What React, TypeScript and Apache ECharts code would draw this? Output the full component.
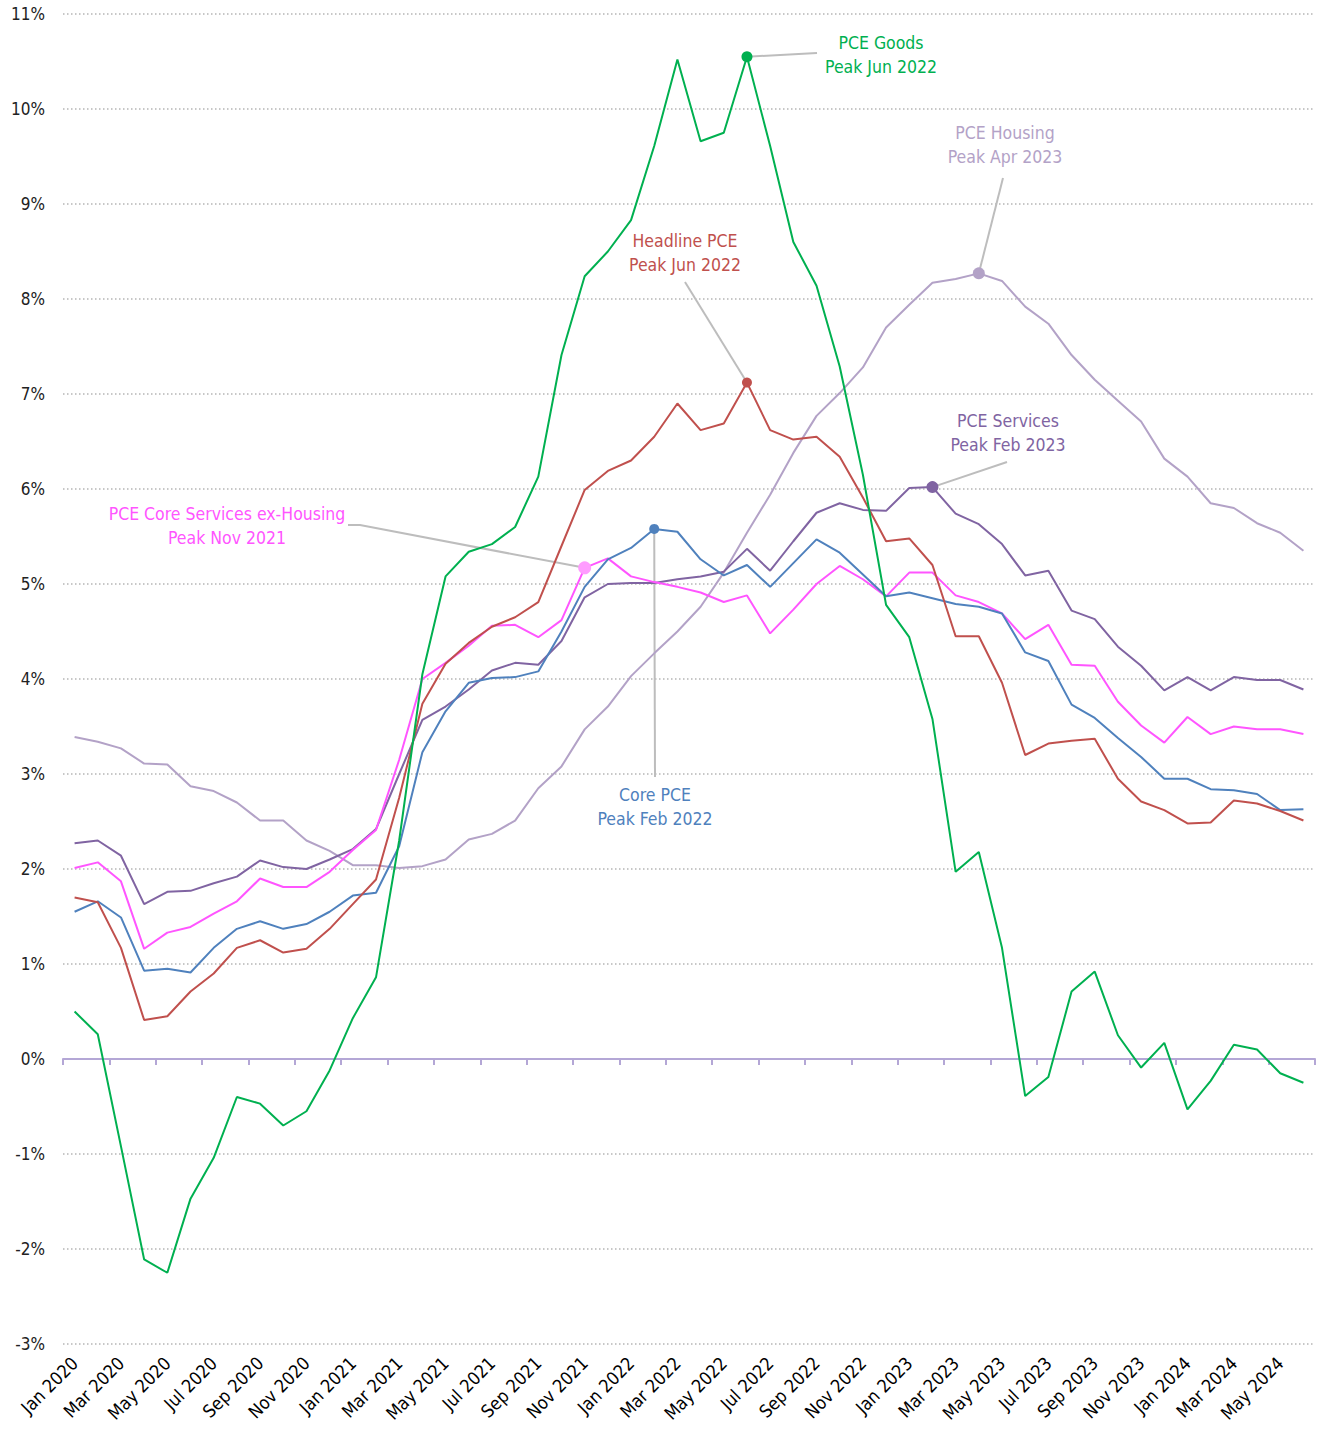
import React, { useEffect, useRef } from "react";
import * as echarts from "echarts";

// ---------- DATA ----------
const months = [
  "Jan 2020", "Feb 2020", "Mar 2020", "Apr 2020", "May 2020", "Jun 2020", "Jul 2020", "Aug 2020", "Sep 2020", "Oct 2020", "Nov 2020", "Dec 2020",
  "Jan 2021", "Feb 2021", "Mar 2021", "Apr 2021", "May 2021", "Jun 2021", "Jul 2021", "Aug 2021", "Sep 2021", "Oct 2021", "Nov 2021", "Dec 2021",
  "Jan 2022", "Feb 2022", "Mar 2022", "Apr 2022", "May 2022", "Jun 2022", "Jul 2022", "Aug 2022", "Sep 2022", "Oct 2022", "Nov 2022", "Dec 2022",
  "Jan 2023", "Feb 2023", "Mar 2023", "Apr 2023", "May 2023", "Jun 2023", "Jul 2023", "Aug 2023", "Sep 2023", "Oct 2023", "Nov 2023", "Dec 2023",
  "Jan 2024", "Feb 2024", "Mar 2024", "Apr 2024", "May 2024", "Jun 2024",
];

const pceHousing = [
  3.39, 3.34, 3.27, 3.11, 3.10, 2.87, 2.82, 2.70, 2.51, 2.51, 2.30, 2.19,
  2.04, 2.04, 2.01, 2.03, 2.10, 2.31, 2.37, 2.51, 2.85, 3.08, 3.47, 3.71,
  4.03, 4.27, 4.50, 4.76, 5.12, 5.54, 5.94, 6.38, 6.77, 7.01, 7.28, 7.70,
  7.94, 8.17, 8.21, 8.27, 8.19, 7.92, 7.74, 7.41, 7.15, 6.93, 6.71, 6.32,
  6.13, 5.85, 5.80, 5.64, 5.54, 5.35,
];

const pceServices = [
  2.27, 2.30, 2.14, 1.63, 1.76, 1.77, 1.85, 1.92, 2.09, 2.02, 2.00, 2.10,
  2.21, 2.42, 3.00, 3.57, 3.71, 3.89, 4.09, 4.17, 4.15, 4.40, 4.86, 5.00,
  5.01, 5.01, 5.05, 5.08, 5.13, 5.37, 5.14, 5.45, 5.75, 5.85, 5.78, 5.77,
  6.01, 6.02, 5.74, 5.63, 5.42, 5.09, 5.14, 4.72, 4.63, 4.34, 4.14, 3.88,
  4.02, 3.88, 4.02, 3.99, 3.99, 3.89,
];

const coreServicesExHousing = [
  2.01, 2.07, 1.87, 1.16, 1.33, 1.39, 1.53, 1.66, 1.90, 1.81, 1.81, 1.97,
  2.20, 2.41, 3.15, 4.00, 4.17, 4.35, 4.56, 4.57, 4.44, 4.62, 5.17, 5.27,
  5.08, 5.02, 4.97, 4.91, 4.81, 4.88, 4.48, 4.73, 5.00, 5.19, 5.05, 4.87,
  5.12, 5.12, 4.88, 4.81, 4.69, 4.42, 4.57, 4.15, 4.14, 3.76, 3.51, 3.33,
  3.60, 3.42, 3.50, 3.47, 3.47, 3.42,
];

const corePce = [
  1.55, 1.66, 1.49, 0.93, 0.95, 0.91, 1.17, 1.37, 1.45, 1.37, 1.42, 1.55,
  1.72, 1.75, 2.24, 3.23, 3.66, 3.96, 4.01, 4.02, 4.08, 4.50, 4.97, 5.26,
  5.38, 5.58, 5.55, 5.26, 5.09, 5.20, 4.97, 5.22, 5.47, 5.33, 5.10, 4.87,
  4.91, 4.85, 4.79, 4.76, 4.69, 4.28, 4.19, 3.73, 3.59, 3.38, 3.18, 2.95,
  2.95, 2.84, 2.83, 2.79, 2.62, 2.63,
];

const headlinePce = [
  1.70, 1.65, 1.17, 0.41, 0.45, 0.71, 0.90, 1.17, 1.25, 1.12, 1.16, 1.37,
  1.63, 1.89, 2.75, 3.74, 4.16, 4.38, 4.55, 4.65, 4.81, 5.40, 5.99, 6.19,
  6.30, 6.55, 6.90, 6.62, 6.69, 7.12, 6.62, 6.52, 6.55, 6.34, 5.91, 5.45,
  5.48, 5.20, 4.45, 4.45, 3.96, 3.20, 3.32, 3.35, 3.37, 2.95, 2.71, 2.62,
  2.48, 2.49, 2.72, 2.69, 2.61, 2.51,
];

const pceGoods = [
  0.50, 0.26, -0.92, -2.11, -2.25, -1.47, -1.04, -0.40, -0.47, -0.70, -0.55, -0.12,
  0.43, 0.86, 2.30, 4.05, 5.08, 5.34, 5.42, 5.60, 6.13, 7.41, 8.24, 8.50,
  8.83, 9.61, 10.52, 9.66, 9.75, 10.55, 9.61, 8.60, 8.14, 7.29, 6.15, 4.78,
  4.44, 3.58, 1.97, 2.18, 1.17, -0.39, -0.19, 0.71, 0.92, 0.25, -0.09, 0.17,
  -0.53, -0.23, 0.15, 0.10, -0.15, -0.25,
];

const yTicks = { min: -3, max: 11, interval: 1 };

// peak months highlighted by the annotations
const peakMonths = {
  housing: "Apr 2023",
  services: "Feb 2023",
  coreSvc: "Nov 2021",
  core: "Feb 2022",
  headline: "Jun 2022",
  goods: "Jun 2022",
};

const labelTitles = {
  housing: "PCE Housing",
  services: "PCE Services",
  coreSvc: "PCE Core Services ex-Housing",
  core: "Core PCE",
  headline: "Headline PCE",
  goods: "PCE Goods",
};

// ---------- STYLE / LAYOUT ----------
const FONT = '"Liberation Sans Narrow", "DejaVu Sans Condensed", "Arial Narrow", sans-serif';

const seriesStyle = [
  { key: "housing", data: pceHousing, color: "#b3a2c7", marker: "#b3a2c7", size: 12 },
  { key: "services", data: pceServices, color: "#8064a2", marker: "#8064a2", size: 12 },
  { key: "coreSvc", data: coreServicesExHousing, color: "#ff55ff", marker: "#ff9cff", size: 13 },
  { key: "core", data: corePce, color: "#4f81bd", marker: "#4f81bd", size: 10 },
  { key: "headline", data: headlinePce, color: "#c0504d", marker: "#c0504d", size: 10 },
  { key: "goods", data: pceGoods, color: "#00b050", marker: "#00b050", size: 11 },
];

// text block centre and leader start points (pixels)
const labelLayout: Record<string, { x: number; y: number; leader: number[][] }> = {
  goods: { x: 881, y: 55, leader: [[817, 53]] },
  housing: { x: 1005, y: 145, leader: [[1003, 178]] },
  headline: { x: 685, y: 253, leader: [[685, 282]] },
  services: { x: 1008, y: 433, leader: [[1007, 462]] },
  coreSvc: { x: 227, y: 526, leader: [[348, 525], [360, 525]] },
  core: { x: 655, y: 807, leader: [[655, 777]] },
};

export default function App() {
  const ref = useRef<HTMLDivElement>(null);

  useEffect(() => {
    if (!ref.current) return;
    const chart = echarts.init(ref.current, null, { renderer: "svg" });

    const series = seriesStyle.map((s) => {
      const key = s.key as keyof typeof peakMonths;
      const idx = months.indexOf(peakMonths[key]);
      return {
        name: labelTitles[key],
        type: "line",
        data: s.data,
        xAxisIndex: 0,
        yAxisIndex: 0,
        showSymbol: false,
        symbol: "none",
        lineStyle: { color: s.color, width: 2 },
        itemStyle: { color: s.color },
        z: 3,
        markPoint: {
          symbol: "circle",
          symbolSize: s.size,
          silent: true,
          label: { show: false },
          itemStyle: { color: s.marker },
          data: [{ coord: [idx, s.data[idx]] }],
          z: 6,
        },
      };
    });

    chart.setOption({
      animation: false,
      backgroundColor: "#ffffff",
      grid: { left: 63, right: 10, top: 14, bottom: 88, containLabel: false },
      xAxis: [
        {
          type: "category",
          data: months,
          boundaryGap: true,
          axisLine: { onZero: true, lineStyle: { color: "#b4a7d6", width: 2 } },
          axisTick: { show: true, interval: 1, length: 6, lineStyle: { color: "#b4a7d6", width: 2 } },
          axisLabel: { show: false },
          splitLine: { show: false },
          z: 2,
        },
        {
          type: "category",
          data: months,
          boundaryGap: true,
          position: "bottom",
          axisLine: { show: false, onZero: false },
          axisTick: { show: false },
          axisLabel: {
            interval: 1,
            rotate: 45,
            margin: 16,
            color: "#000000",
            fontSize: 18,
            fontFamily: FONT,
          },
          splitLine: { show: false },
        },
      ],
      yAxis: {
        type: "value",
        min: yTicks.min,
        max: yTicks.max,
        interval: yTicks.interval,
        axisLine: { show: false },
        axisTick: { show: false },
        axisLabel: {
          formatter: "{value}%",
          color: "#222222",
          fontSize: 17,
          fontFamily: FONT,
          margin: 18,
        },
        splitLine: { show: true, lineStyle: { color: "#b5b5b5", width: 1.5, type: [1.5, 2.5] } },
      },
      series,
    });

    const graphics: any[] = [];
    seriesStyle.forEach((s) => {
      const key = s.key as keyof typeof peakMonths;
      const idx = months.indexOf(peakMonths[key]);
      const p = chart.convertToPixel({ xAxisIndex: 0, yAxisIndex: 0 }, [idx, s.data[idx]]) as number[];
      const lay = labelLayout[key];
      graphics.push({
        type: "polyline",
        z: 1,
        silent: true,
        shape: { points: [...lay.leader, p] },
        style: { stroke: "#bdbdbd", lineWidth: 2, fill: null },
      });
      graphics.push({
        type: "text",
        z: 10,
        silent: true,
        x: lay.x,
        y: lay.y,
        style: {
          text: labelTitles[key] + "\nPeak " + peakMonths[key],
          fill: s.color,
          font: "17.5px " + FONT,
          align: "center",
          verticalAlign: "middle",
          lineHeight: 24,
        },
      });
    });
    chart.setOption({ graphic: graphics });

    return () => chart.dispose();
  }, []);

  return (
    <div
      ref={ref}
      style={{ position: "fixed", left: 0, top: 0, width: 1325, height: 1432, background: "#fff" }}
    />
  );
}
